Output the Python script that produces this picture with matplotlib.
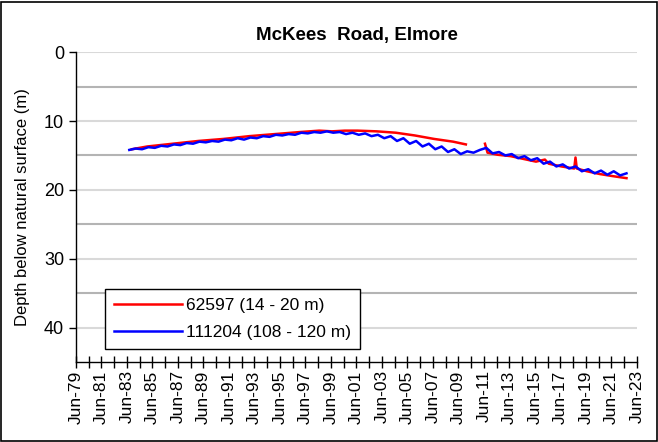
import numpy as np
import matplotlib.pyplot as plt
from matplotlib.patches import Rectangle

plt.rcParams['font.family'] = ['Liberation Sans', 'DejaVu Sans']

# bore 111204 (108 - 120 m), decimal years and depth below surface (m)
blue_years = [1983.6, 1984.1, 1984.6, 1985.1, 1985.6, 1986.1, 1986.6, 1987.1, 1987.6, 1988.1,
              1988.6, 1989.1, 1989.6, 1990.1, 1990.6, 1991.1, 1991.6, 1992.1, 1992.6, 1993.1,
              1993.6, 1994.1, 1994.6, 1995.1, 1995.6, 1996.1, 1996.6, 1997.1, 1997.6, 1998.1,
              1998.6, 1999.1, 1999.6, 2000.1, 2000.6, 2001.1, 2001.6, 2002.1, 2002.6, 2003.1,
              2003.6, 2004.1, 2004.6, 2005.1, 2005.6, 2006.1, 2006.6, 2007.1, 2007.6, 2008.1,
              2008.6, 2009.1, 2009.6, 2010.1, 2010.6, 2011.1, 2011.6, 2012.1, 2012.6, 2013.1,
              2013.6, 2014.1, 2014.6, 2015.1, 2015.6, 2016.1, 2016.6, 2017.1, 2017.6, 2018.1,
              2018.6, 2019.1, 2019.6, 2020.1, 2020.6, 2021.1, 2021.6, 2022.1, 2022.6]
blue_depth = [14.2, 14.0, 14.1, 13.8, 13.9, 13.6, 13.7, 13.4, 13.5, 13.2,
              13.3, 13.0, 13.1, 12.9, 13.0, 12.7, 12.8, 12.5, 12.7, 12.4,
              12.5, 12.2, 12.3, 12.0, 12.1, 11.9, 12.0, 11.7, 11.8, 11.6,
              11.7, 11.5, 11.7, 11.6, 11.9, 11.7, 12.0, 11.8, 12.2, 12.0,
              12.5, 12.2, 12.9, 12.5, 13.3, 12.9, 13.7, 13.3, 14.1, 13.7,
              14.5, 14.1, 14.8, 14.4, 14.6, 14.2, 13.9, 14.7, 14.5, 15.0,
              14.8, 15.4, 15.1, 15.7, 15.4, 16.2, 15.9, 16.6, 16.3, 16.9,
              16.6, 17.3, 17.0, 17.6, 17.2, 17.8, 17.3, 17.9, 17.6]

# bore 62597 (14 - 20 m), gap in record 2010-2011
red_years = [1983.8, 1985.0, 1987.0, 1989.0, 1991.0, 1993.0, 1995.0, 1997.0, 1998.5, 1999.5,
             2000.5, 2001.5, 2003.0, 2004.5, 2006.0, 2007.5, 2009.0, 2010.0, 2010.5,
             2011.5, 2011.7, 2012.5, 2013.5, 2014.5, 2015.5, 2016.2, 2016.5, 2017.5, 2018.5,
             2018.6, 2018.7, 2019.5, 2020.5, 2021.5, 2022.6]
red_depth = [14.1, 13.7, 13.3, 12.9, 12.6, 12.2, 11.9, 11.6, 11.4, 11.5,
             11.4, 11.4, 11.5, 11.7, 12.1, 12.6, 13.0, 13.4, np.nan,
             13.3, 14.6, 14.9, 15.1, 15.5, 15.9, 15.6, 16.2, 16.6, 16.9,
             15.3, 16.9, 17.3, 17.7, 18.0, 18.3]

tick_years = list(range(1979, 2024))
label_years = list(range(1979, 2024, 2))

fig = plt.figure(figsize=(6.58, 4.42), dpi=100)
ax = fig.add_axes([0.1155, 0.181, 0.8525, 0.701])

# light horizontal grid every 5 m, odd ones a bit darker
for d in range(0, 45, 5):
    col = '#b4b4b4' if d % 10 == 5 else '#d9d9d9'
    ax.axhline(d, color=col, lw=1.5, zorder=0)

ax.plot(red_years, red_depth, color='#ff0000', lw=1.8, label='62597 (14 - 20 m)', zorder=2)
ax.plot(blue_years, blue_depth, color='#0000ff', lw=1.8, label='111204 (108 - 120 m)', zorder=3)

ax.set_xlim(1979.42, 2023.42)
ax.set_ylim(45, 0)
ax.set_yticks([0, 10, 20, 30, 40])
ax.set_xticks([y + 0.42 for y in label_years])
ax.set_xticklabels(['Jun-%02d' % (y % 100) for y in label_years], rotation=90)
ax.set_xticks([y + 0.42 for y in tick_years], minor=True)
ax.tick_params(axis='x', which='both', direction='inout', length=8, width=1, labelsize=12.5, pad=2)
ax.tick_params(axis='y', direction='out', length=5, width=1, labelsize=13)

for s in ['top', 'right']:
    ax.spines[s].set_visible(False)
for s in ['left', 'bottom']:
    ax.spines[s].set_linewidth(1)

ax.set_ylabel('Depth below natural surface (m)', fontsize=12, labelpad=10)
ax.set_title('McKees  Road, Elmore', fontsize=13.5, fontweight='bold', pad=9)

leg = ax.legend(loc='upper left', bbox_to_anchor=(0.036, 0.265), fontsize=12.5, frameon=True,
                fancybox=False, edgecolor='black', framealpha=1, handlelength=3.9,
                handletextpad=0.2, borderpad=0.55, labelspacing=0.65)
leg.get_frame().set_linewidth(1)

fig.patches.append(Rectangle((0.002, 0.002), 0.996, 0.994, transform=fig.transFigure,
                             fill=False, edgecolor='black', lw=1.2))

fig.savefig('out.png', dpi=100)
